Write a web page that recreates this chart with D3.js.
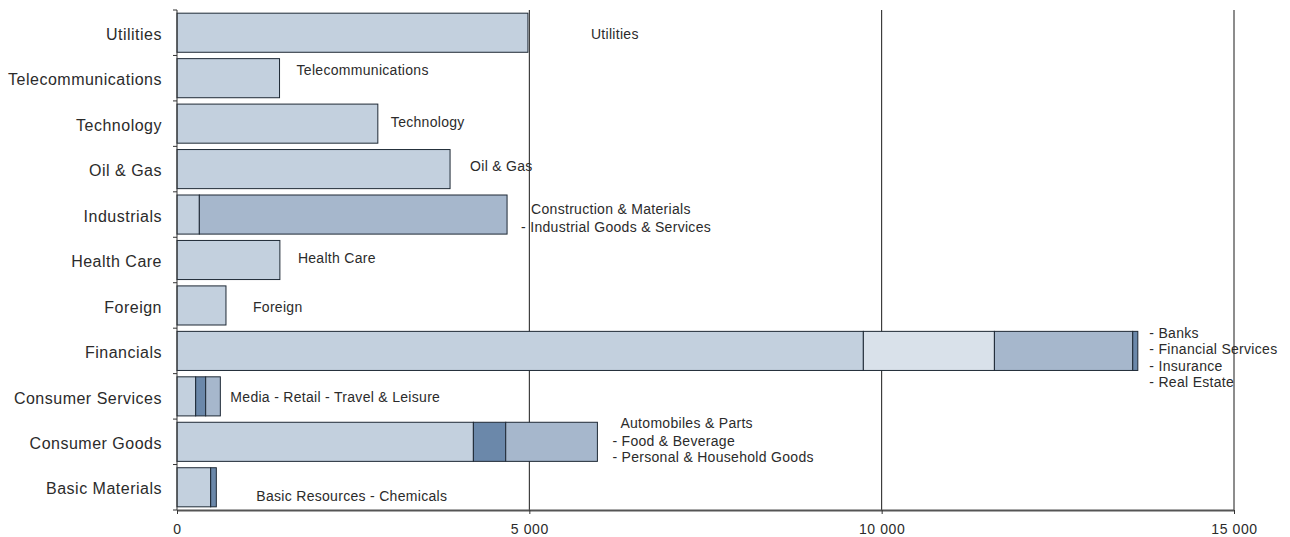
<!DOCTYPE html>
<html>
<head>
<meta charset="utf-8">
<script src="https://cdn.jsdelivr.net/npm/d3@7"></script>
<style>
  body { margin: 0; background: #fff; }
  svg { display: block; font-family: 'Liberation Sans', Arial, sans-serif; }
</style>
</head>
<body>
<svg id="chart" width="1290" height="537"></svg>
<script>
'use strict';

// sectors, top to bottom
let categories = ['Utilities', 'Telecommunications', 'Technology', 'Oil & Gas',
  'Industrials', 'Health Care', 'Foreign', 'Financials', 'Consumer Services',
  'Consumer Goods', 'Basic Materials'];

// stacked sub-sector pieces, in order from the axis outwards
let seg1 = [4980, 1455, 2850, 3875, 317, 1460, 695, 9740, 265, 4206, 478];
let seg2 = [0, 0, 0, 0, 4367, 0, 0, 1860, 142, 459, 80];
let seg3 = [0, 0, 0, 0, 0, 0, 0, 1963, 208, 1301, 0];
let seg4 = [0, 0, 0, 0, 0, 0, 0, 72, 0, 0, 0];

// which shade each piece takes
let shade2 = ['', '', '', '', 'mid', '', '', 'pale', 'dark', 'dark', 'dark'];
let shade3 = ['', '', '', '', '', '', '', 'mid', 'mid', 'mid', ''];
let shade4 = ['', '', '', '', '', '', '', 'dark', '', '', ''];

// sub-sector notes next to the bars
let notes = [
  ['Utilities'],
  ['Telecommunications'],
  ['Technology'],
  ['Oil & Gas'],
  ['Construction & Materials', '- Industrial Goods & Services'],
  ['Health Care'],
  ['Foreign'],
  ['- Banks', '- Financial Services', '- Insurance', '- Real Estate'],
  ['Media - Retail - Travel & Leisure'],
  ['Automobiles & Parts', '- Food & Beverage', '- Personal & Household Goods'],
  ['Basic Resources - Chemicals'],
];

let xTicks = [0, 5000, 10000, 15000];

// note placement: offset from bar end / bar centre, per line
let noteOffsets = [
  [[63, 6]],
  [[17, -3]],
  [[13, 3.5]],
  [[20, 2]],
  [[24, -0.5], [14, 17]],
  [[18, 3]],
  [[27, 6.5]],
  [[11.5, -13], [11.5, 3.5], [11.5, 20], [11.5, 36.5]],
  [[10, 5.5]],
  [[23, -13.5], [15, 4], [15, 20.5]],
  [[40, 14]],
];

let colors = {
  light: '#c3d0de',
  pale: '#d9e1ea',
  mid: '#a6b7cc',
  dark: '#6b88aa',
};

let margin = {top: 10, right: 56, left: 177};
let width = 1290;
let plotBottom = 510;

let svg = d3.select('#chart');

let x = d3.scaleLinear()
  .domain([0, 15000])
  .range([margin.left, width - margin.right]);

let y = d3.scaleBand()
  .domain(categories)
  .range([margin.top, plotBottom])
  .paddingInner(0.14)
  .paddingOuter(0.07);

// grid lines
svg.append('g')
  .selectAll('line')
  .data(xTicks.slice(1))
  .join('line')
  .attr('x1', d => x(d))
  .attr('x2', d => x(d))
  .attr('y1', margin.top)
  .attr('y2', plotBottom)
  .style('stroke', '#1a1a1a')
  .style('stroke-width', 1);

// bars
let rows = categories.map((c, i) => {
  let pieces = [
    {v: seg1[i], shade: 'light'},
    {v: seg2[i], shade: shade2[i]},
    {v: seg3[i], shade: shade3[i]},
    {v: seg4[i], shade: shade4[i]},
  ];
  let acc = 0;
  let out = [];
  pieces.forEach(p => {
    if (p.v > 0) {
      out.push({cat: c, x0: acc, x1: acc + p.v, shade: p.shade});
      acc += p.v;
    }
  });
  return {cat: c, total: acc, pieces: out};
});

let barsG = svg.append('g').classed('bars', true);
rows.forEach(r => {
  barsG.append('g')
    .selectAll('rect')
    .data(r.pieces)
    .join('rect')
    .attr('x', d => x(d.x0))
    .attr('y', d => y(d.cat))
    .attr('width', d => x(d.x1) - x(d.x0))
    .attr('height', y.bandwidth())
    .style('fill', d => colors[d.shade])
    .style('stroke', '#1e2935')
    .style('stroke-width', 1);
});

// notes
let notesG = svg.append('g').classed('notes', true)
  .style('font-size', '14px')
  .style('letter-spacing', '0.3px')
  .style('fill', '#2b2b2b');
rows.forEach((r, i) => {
  let cy = y(r.cat) + y.bandwidth() / 2;
  notes[i].forEach((line, j) => {
    let off = noteOffsets[i][j];
    notesG.append('text')
      .attr('x', x(r.total) + off[0])
      .attr('y', cy + off[1])
      .text(line);
  });
});

// left axis
let yAxis = d3.axisLeft(y).tickSize(0).tickPadding(15);
let yG = svg.append('g')
  .attr('transform', `translate(${margin.left},0)`)
  .call(yAxis);
yG.select('.domain').remove();
yG.selectAll('text')
  .style('font-size', '16px')
  .style('font-family', "'Liberation Sans', Arial, sans-serif")
  .style('letter-spacing', '0.5px')
  .style('fill', '#2b2b2b')
  .attr('dy', '0.45em');

// category boundary ticks
let bounds = d3.range(categories.length + 1)
  .map(i => margin.top + i * (plotBottom - margin.top) / categories.length);
svg.append('g')
  .selectAll('line')
  .data(bounds)
  .join('line')
  .attr('x1', margin.left - 4)
  .attr('x2', margin.left)
  .attr('y1', d => d)
  .attr('y2', d => d)
  .style('stroke', '#333')
  .style('stroke-width', 1);
svg.append('line')
  .attr('x1', margin.left)
  .attr('x2', margin.left)
  .attr('y1', margin.top)
  .attr('y2', plotBottom)
  .style('stroke', '#333')
  .style('stroke-width', 1);

// bottom axis
let xAxis = d3.axisBottom(x)
  .tickValues(xTicks)
  .tickSize(4)
  .tickPadding(10)
  .tickFormat(d => d3.format(',')(d).replace(/,/g, ' '));
let xG = svg.append('g')
  .attr('transform', `translate(0,${plotBottom})`)
  .call(xAxis);
xG.select('.domain')
  .attr('d', `M${x(0)},0.5H${x(15000)}`)
  .style('stroke', '#555')
  .style('stroke-width', 2);
xG.selectAll('.tick line').style('stroke', '#333');
xG.selectAll('text')
  .style('font-size', '14px')
  .style('letter-spacing', '0.6px')
  .style('font-family', "'Liberation Sans', Arial, sans-serif")
  .style('fill', '#2b2b2b');
</script>
</body>
</html>
